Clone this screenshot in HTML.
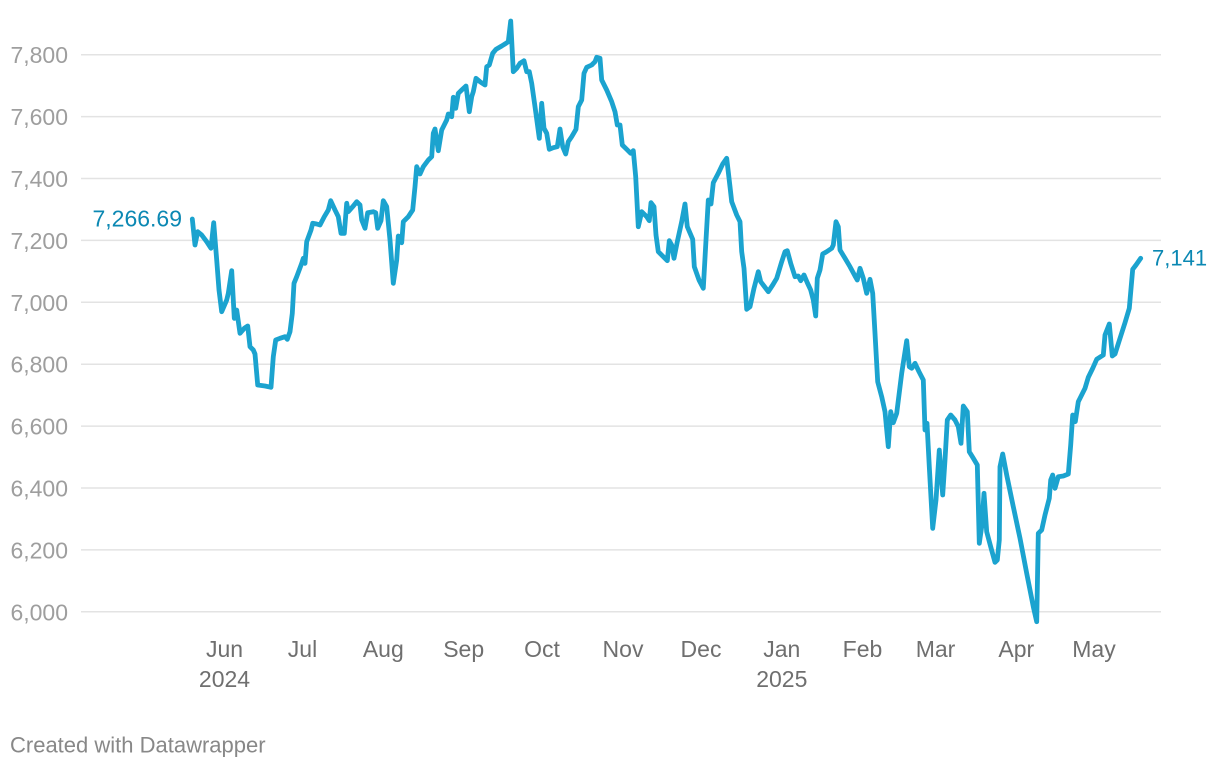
<!DOCTYPE html>
<html>
<head>
<meta charset="utf-8">
<style>
  html, body { margin:0; padding:0; background:#fff; }
  body { width:1220px; height:768px; overflow:hidden; }
  svg { display:block; }
  text { font-family: "Liberation Sans", Arial, sans-serif; }
</style>
</head>
<body>
<svg width="1220" height="768" viewBox="0 0 1220 768" xmlns="http://www.w3.org/2000/svg">
  <g stroke="#e3e3e3" stroke-width="1.5">
    <line x1="81" x2="1161" y1="54.7" y2="54.7"/>
    <line x1="81" x2="1161" y1="116.6" y2="116.6"/>
    <line x1="81" x2="1161" y1="178.5" y2="178.5"/>
    <line x1="81" x2="1161" y1="240.4" y2="240.4"/>
    <line x1="81" x2="1161" y1="302.3" y2="302.3"/>
    <line x1="81" x2="1161" y1="364.2" y2="364.2"/>
    <line x1="81" x2="1161" y1="426.1" y2="426.1"/>
    <line x1="81" x2="1161" y1="488.0" y2="488.0"/>
    <line x1="81" x2="1161" y1="549.9" y2="549.9"/>
    <line x1="81" x2="1161" y1="611.8" y2="611.8"/>
  </g>
  <g fill="#9e9e9e" font-size="23" text-anchor="end">
    <text x="68" y="63.2">7,800</text>
    <text x="68" y="125.1">7,600</text>
    <text x="68" y="187.0">7,400</text>
    <text x="68" y="248.9">7,200</text>
    <text x="68" y="310.8">7,000</text>
    <text x="68" y="372.7">6,800</text>
    <text x="68" y="434.6">6,600</text>
    <text x="68" y="496.5">6,400</text>
    <text x="68" y="558.4">6,200</text>
    <text x="68" y="620.3">6,000</text>
  </g>
  <g fill="#6f6f6f" font-size="23" text-anchor="middle">
    <text x="224.5" y="657">Jun</text>
    <text x="224.5" y="687">2024</text>
    <text x="302.5" y="657">Jul</text>
    <text x="383.3" y="657">Aug</text>
    <text x="463.7" y="657">Sep</text>
    <text x="542" y="657">Oct</text>
    <text x="623" y="657">Nov</text>
    <text x="701" y="657">Dec</text>
    <text x="781.8" y="657">Jan</text>
    <text x="781.8" y="687">2025</text>
    <text x="862.5" y="657">Feb</text>
    <text x="935.5" y="657">Mar</text>
    <text x="1016.3" y="657">Apr</text>
    <text x="1094" y="657">May</text>
  </g>
  <polyline fill="none" stroke="#1ba3cf" stroke-width="4.8" stroke-linejoin="round" stroke-linecap="round" points="
192.3,219 195,245 197.7,231.7 201.7,235 206.7,241.7 211,248.3 213.7,222.7 216.7,260 219,290 221.7,311.7 226.7,300 228.3,293.3 231.7,270.7 234.3,318.3 236.7,310 240,333.3 244.3,328.3 247.7,326 250,346.7 253.3,350 255,354 257.7,385 265,386 271,387.3 273.3,356.7 275.7,340 280,338.3 285,336.7 287.3,339.3 290,331.7 292.3,313.3 294,283.3 296.7,276.7 301.7,263.3 303.3,258.3 305,263.3 306.7,241.7 311,230 312.7,223.3 316.7,224 320,225 324.3,216.7 328.3,210 330.7,200.7 335,210 338.3,216.7 341,233.3 344.3,233.3 346.7,203.3 348.3,211.7 353.3,206 356.7,201.7 360,205 361.7,220 365,228.3 367.7,212.7 373.3,211.7 375.7,212.7 377.7,228.3 381,220.7 383.3,200.7 386.7,206.7 390,240 393.3,283.3 396.7,260 398.3,236 401.7,242.7 403.3,221.7 408.3,216.7 412.7,210 415,186.7 416.7,166.7 420,174 423.3,166.7 428.3,160 431.7,156.7 433.3,133.3 435,129 438.3,150.7 441.7,130 446.7,120 448.3,114 451.7,116.7 453.3,97.3 455.7,108.3 458.3,93.3 461.7,90 466,86 469.3,111.7 471.7,96.7 473.3,91.7 476,78.3 480,81.7 485,85 486.7,66.7 489.3,65 492.7,53.3 496,49.3 501.7,46 506,43.3 508.3,41.7 510.7,21 513.3,71.7 516.7,68.3 520,63.3 524,60.7 526.7,71.7 529.3,71.7 531.7,83.3 535,106.7 539.3,138.3 541.7,103.3 544,128.3 546.7,133.3 549.3,149.3 553.3,147.7 557.3,146.7 560,129 562.7,146.7 565.7,154 568.3,141.7 571.7,136.7 576,129.3 578.3,106.7 581.7,100 584,73.3 586.7,67.3 591.7,65 595,61.7 596.7,57.3 600,58.3 601.7,80 606.7,90 611.7,101.7 615,111.7 617.3,125 620,125 622.3,145 626.7,149.3 630.7,153.3 633.3,150.7 635.7,176.7 638.3,226.7 641.7,211.7 646.7,216.7 649.3,220.7 651,202.7 654,206.7 656,235 658.3,251.7 663.3,256.7 667.3,260.7 669.3,240.7 671.7,245 674,258.3 677.3,241.7 681.7,221.7 685,204 687.3,226.7 692.7,239.3 694.3,266.7 699,280 703.3,288.3 706,240 708.3,200 711,204 713.3,182.7 718.3,173.3 722.7,164 726.7,158.3 730,186.7 731.7,201.7 736.7,215 740,221.7 741.7,251.7 744,268.3 746.7,309.3 750,306.7 754,288.3 758.3,271.7 760.7,281.7 764,286 768.3,291.7 772.7,285 776.7,278.3 781.7,261.7 785,251.7 787.3,250.7 790.7,263.3 795,276.7 798.3,276 800.7,280.7 804,275 807.3,282.7 810.7,290 813.3,300 815.7,316 817.3,278.3 820,270 822.7,254 826.7,251.7 831.7,248.3 833.3,245 836,221.7 838.3,226.7 840,250 845,258.3 850,266.7 855,276 857.3,280 860,268.3 863.3,278.3 866.7,293.3 870,279.3 872.7,293.3 875,333.3 877.7,381.7 881.7,396.7 885,411.7 888.3,446.7 890.7,411.7 893.3,422.7 896.7,413.3 901.7,373.3 906.7,340.7 909.3,366.7 911.7,368.3 915,363.3 919,371.7 923.3,380 925,430 927,423.3 929.3,466.7 932.7,528.3 936,500 939.3,450 942.7,495 945,460 947.3,420 950.7,415 955,420 958.3,426.7 961,443.3 963.3,406 967.3,411.7 969.3,451.7 973.3,458.3 977.3,465 979.3,543.3 981.7,526.7 984,493.3 986.7,531.7 990.7,546.7 995,562.3 997.3,560 999.3,540 1000,466.7 1002.7,454 1006.7,475 1013.3,506.7 1020,538.3 1026.7,573.3 1033.3,606.7 1036.7,621.7 1038.3,533.3 1041.7,530 1045,515 1049.3,498.3 1050.7,480 1052.7,475 1055,488.3 1058.3,476.7 1063.3,476 1068.3,474 1070.7,445 1072.7,415 1075.3,421.7 1078.3,401.7 1080,398.3 1085,388.3 1088.3,377.3 1092.7,368.3 1096.7,359.3 1103.3,355 1105,335 1109.3,324 1112.3,356 1115,354 1120,338.3 1125,322.7 1129.3,308.3 1132.7,269.3 1136,265 1140.7,258.3"/>
  <text x="182" y="226.5" fill="#0b88b3" font-size="23" text-anchor="end">7,266.69</text>
  <text x="1152" y="265.5" fill="#0b88b3" font-size="22">7,141</text>
  <text x="10" y="752.5" fill="#888888" font-size="22">Created with Datawrapper</text>
</svg>
</body>
</html>
